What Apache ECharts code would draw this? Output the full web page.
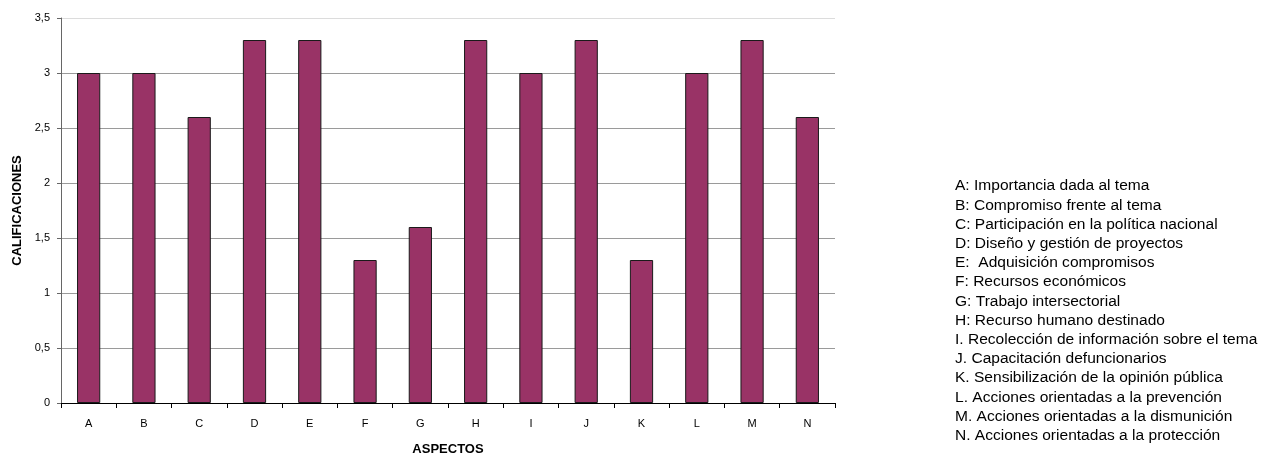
<!DOCTYPE html>
<html>
<head>
<meta charset="utf-8">
<script src="https://cdn.jsdelivr.net/npm/echarts@6/dist/echarts.min.js"></script>
<style>
  html, body { margin: 0; padding: 0; background: #fff; }
  #chart { width: 1271px; height: 455px; }
</style>
</head>
<body>
<div id="chart"></div>
<script>
// Aspect codes along the x axis
const categories = ['A', 'B', 'C', 'D', 'E', 'F', 'G', 'H', 'I', 'J', 'K', 'L', 'M', 'N'];
// Rating for each aspect
const ratings = [3, 3, 2.6, 3.3, 3.3, 1.3, 1.6, 3.3, 3, 3.3, 1.3, 3, 3.3, 2.6];
// Key explaining each code
const descriptions = [
  'A: Importancia dada al tema',
  'B: Compromiso frente al tema',
  'C: Participación en la política nacional',
  'D: Diseño y gestión de proyectos',
  'E:  Adquisición compromisos',
  'F: Recursos económicos',
  'G: Trabajo intersectorial',
  'H: Recurso humano destinado',
  'I. Recolección de información sobre el tema',
  'J. Capacitación defuncionarios',
  'K. Sensibilización de la opinión pública',
  'L. Acciones orientadas a la prevención',
  'M. Acciones orientadas a la dismunición',
  'N. Acciones orientadas a la protección'
];

const narrow = "'Liberation Sans Narrow', 'Arial Narrow', 'Liberation Sans', sans-serif";
const chart = echarts.init(document.getElementById('chart'));

// grid lines: the top one (3,5) is drawn lighter
const gridColors = ['#9a9a9a', '#9a9a9a', '#9a9a9a', '#9a9a9a', '#9a9a9a', '#9a9a9a', '#9a9a9a', '#dcdcdc'];

chart.setOption({
  animation: false,
  backgroundColor: '#ffffff',
  grid: { left: 61, right: 436, top: 18, bottom: 52, containLabel: false, outerBoundsMode: 'none' },
  xAxis: {
    type: 'category',
    data: categories,
    name: 'ASPECTOS',
    nameLocation: 'middle',
    nameGap: 40,
    nameTextStyle: { fontFamily: narrow, fontWeight: 'bold', fontSize: 13, color: '#000' },
    axisLine: { lineStyle: { color: '#000', width: 1 } },
    axisTick: { show: true, alignWithLabel: false, length: 5, lineStyle: { color: '#000' } },
    axisLabel: { fontFamily: narrow, fontSize: 11, color: '#000', margin: 15 },
    splitLine: { show: false }
  },
  yAxis: {
    type: 'value',
    min: 0,
    max: 3.5,
    interval: 0.5,
    name: 'CALIFICACIONES',
    nameLocation: 'middle',
    nameGap: 36,
    nameRotate: 90,
    nameTextStyle: { fontFamily: narrow, fontWeight: 'bold', fontSize: 13, color: '#000' },
    axisLine: { show: true, lineStyle: { color: '#666', width: 1 } },
    axisTick: { show: true, length: 4, lineStyle: { color: '#666' } },
    axisLabel: {
      fontFamily: narrow, fontSize: 11, color: '#000', margin: 11,
      formatter: v => String(v).replace('.', ',')
    },
    splitLine: { show: true, lineStyle: { color: gridColors, width: 1 } }
  },
  series: [{
    type: 'bar',
    data: ratings,
    barWidth: '42%',
    itemStyle: { color: '#993366', borderColor: '#1a1a1a', borderWidth: 1 }
  }],
  graphic: [{
    type: 'text',
    x: 955,
    y: 177,
    scaleX: 1.11,
    style: {
      text: descriptions.join('\n'),
      fontFamily: "'Liberation Sans', Arial, sans-serif",
      fontSize: 14,
      lineHeight: 19.2,
      fill: '#000'
    }
  }]
});
</script>
</body>
</html>
